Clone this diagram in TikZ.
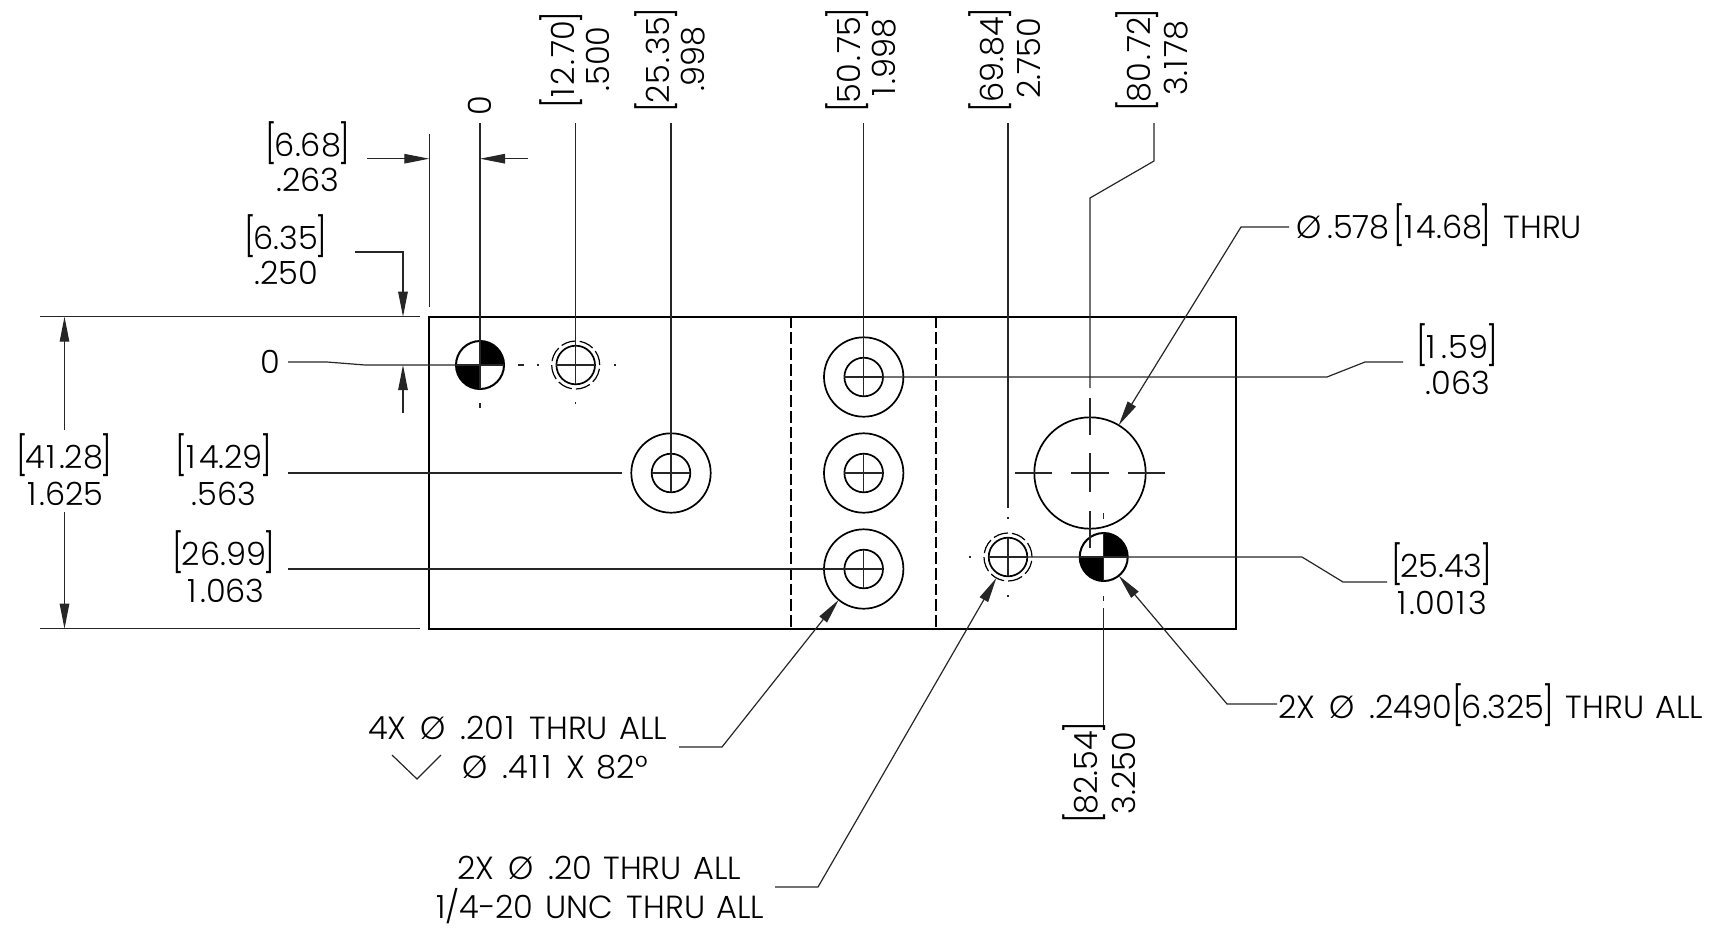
\documentclass[tikz,border=0pt]{standalone}
\usepackage{fontspec}
\setmainfont{Poppins Light}[WordSpace=1.3]
\usetikzlibrary{arrows.meta,calc}
\newcommand{\BL}{\raisebox{-1pt}{\scalebox{1}[1.2]{[}}\kern-2.5pt}
\newcommand{\BR}{\kern-2.5pt\raisebox{-1pt}{\scalebox{1}[1.2]{]}}}
\newcommand{\one}{\kern1.5pt 1\kern3pt}
\newcommand{\dotw}{\kern2pt.\kern2pt}
\newcommand{\DIA}{\kern14pt Ø\kern15pt}
\tikzset{
  lab/.style={inner sep=0pt,outer sep=0pt,anchor=base,font=\fontsize{32}{38}\selectfont},
  labl/.style={lab,anchor=base west},
  labr/.style={lab,rotate=90},
  thinl/.style={line width=1.2pt,black!85},
  outl/.style={line width=2pt,black},
  dashl/.style={line width=1.6pt,dash pattern=on 11.7pt off 4pt},
  ctr/.style={line width=1.2pt,black!85},
  holeo/.style={circle,draw,line width=1.7pt,minimum size=79.4pt,inner sep=0pt,outer sep=0pt},
  holei/.style={circle,draw,line width=1.7pt,minimum size=38.6pt,inner sep=0pt,outer sep=0pt},
  holeb/.style={circle,draw,line width=1.7pt,minimum size=111.4pt,inner sep=0pt,outer sep=0pt},
  holed/.style={circle,draw,line width=1.2pt,minimum size=48pt,inner sep=0pt,outer sep=0pt,dash pattern=on 14.85pt off 4pt},
  datum/.style={circle,draw,line width=2pt,minimum size=48pt,inner sep=0pt,outer sep=0pt},
  arr/.style={-{Triangle[length=25pt,width=9.5pt]}},
}
\begin{document}
\begin{tikzpicture}[x=1pt,y=-1pt]
\useasboundingbox (0,0) rectangle (1715,930);
% part
\coordinate (pNW) at (429.3,316.7);
\coordinate (pSE) at (1236,628.7);
\draw[outl] (pNW) rectangle (pSE);
\coordinate (s1t) at (791,316.7); \coordinate (s1b) at (791,628.7);
\coordinate (s2t) at (936,316.7); \coordinate (s2b) at (936,628.7);
\draw[dashl] (s1t) -- (s1b);
\draw[dashl] (s2t) -- (s2b);
% holes
\node[holeo] (cA) at (863.7,377) {}; \node[holei] (iA) at (863.7,377) {};
\node[holeo] (cB) at (863.7,473) {}; \node[holei] (iB) at (863.7,473) {};
\node[holeo] (cC) at (863.7,569) {}; \node[holei] (iC) at (863.7,569) {};
\node[holeo] (cD) at (671,473) {};   \node[holei] (iD) at (671,473) {};
\node[holeb] (big) at (1090,473) {};
\node[holei] (tA) at (575.7,365) {}; \node[holed] (dA) at (575.7,365) {};
\node[holei] (tB) at (1008,557) {};  \node[holed] (dB) at (1008,557) {};
\node[datum] (orgA) at (480,365) {};
\node[datum] (orgB) at (1103.7,557) {};
\foreach \d in {orgA,orgB}{
  \fill (\d.center) -- (\d.east) arc[start angle=0,end angle=90,radius=24pt] -- cycle;
  \fill (\d.center) -- (\d.west) arc[start angle=180,end angle=270,radius=24pt] -- cycle;
  \draw[ctr] (\d.west) -- (\d.east);
  \draw[ctr] (\d.north) -- (\d.south);
}
\foreach \h in {iA,iB,iC,iD,tA,tB}{
  \draw[ctr] (\h.west) -- (\h.east);
  \draw[ctr] (\h.north) -- (\h.south);
}
% centre marks of the big hole
\coordinate (bh1) at (1015,473); \coordinate (bh2) at (1052,473);
\coordinate (bh3) at (1071,473); \coordinate (bh4) at (1109,473);
\coordinate (bh5) at (1128,473); \coordinate (bh6) at (1165,473);
\draw[ctr] (bh1) -- (bh2); \draw[ctr] (bh3) -- (bh4); \draw[ctr] (bh5) -- (bh6);
\coordinate (bv1) at (1090,398); \coordinate (bv2) at (1090,435);
\coordinate (bv3) at (1090,453); \coordinate (bv4) at (1090,492);
\coordinate (bv5) at (1090,511); \coordinate (bv6) at (1090,548);
\draw[ctr] (bv1) -- (bv2); \draw[ctr] (bv3) -- (bv4); \draw[ctr] (bv5) -- (bv6);
% small centre ticks
\coordinate (a1) at (518,365); \coordinate (a2) at (524,365);
\coordinate (a3) at (537,365); \coordinate (a4) at (539,365);
\coordinate (a5) at (614,365); \coordinate (a6) at (616,365);
\coordinate (a7) at (575.7,402); \coordinate (a8) at (575.7,404);
\coordinate (a9) at (480,403); \coordinate (a10) at (480,408);
\draw[ctr] (a1) -- (a2); \draw[ctr] (a3) -- (a4); \draw[ctr] (a5) -- (a6); \draw[ctr] (a7) -- (a8);
\draw[ctr] (a9) -- (a10);
\coordinate (b1) at (1008,517); \coordinate (b2) at (1008,519);
\coordinate (b3) at (1008,595); \coordinate (b4) at (1008,597);
\coordinate (b5) at (969,557); \coordinate (b6) at (971,557);
\coordinate (b7) at (1103.7,513); \coordinate (b8) at (1103.7,519);
\coordinate (b9) at (1103.7,596); \coordinate (b10) at (1103.7,601);
\draw[ctr] (b1) -- (b2); \draw[ctr] (b3) -- (b4); \draw[ctr] (b5) -- (b6);
\draw[ctr] (b7) -- (b8); \draw[ctr] (b9) -- (b10);
% extension lines
\coordinate (x1t) at (429.3,134); \coordinate (x1b) at (429.3,306.7);
\draw[thinl] (x1t) -- (x1b);
\coordinate (x2t) at (480,123);
\draw[thinl] (x2t) -- (orgA.north);
\coordinate (x3t) at (575.7,123);
\draw[thinl] (x3t) -- (tA.south);
\coordinate (x4t) at (671,123);
\draw[thinl] (x4t) -- (iD.south);
\coordinate (x5t) at (863.7,123);
\draw[thinl] (x5t) -- (iA.south);
\coordinate (x6t) at (1008,123); \coordinate (x6b) at (1008,508);
\draw[thinl] (x6t) -- (x6b);
\coordinate (x7t) at (1154,123); \coordinate (x7a) at (1154,161); \coordinate (x7b) at (1090,198); \coordinate (x7c) at (1090,388);
\draw[thinl] (x7t) -- (x7a) -- (x7b) -- (x7c);
\coordinate (x8t) at (1103.7,608); \coordinate (x8b) at (1103.7,727);
\draw[thinl] (x8t) -- (x8b);
\coordinate (x9l) at (40,316.7); \coordinate (x9r) at (420,316.7);
\draw[thinl] (x9l) -- (x9r);
\coordinate (x10l) at (40,628.7); \coordinate (x10r) at (420,628.7);
\draw[thinl] (x10l) -- (x10r);
% dimension arrows
\coordinate (d1t) at (367,158.7); \coordinate (d1h) at (429.3,158.7);
\draw[thinl,arr] (d1t) -- (d1h);
\coordinate (d2t) at (528,158.7); \coordinate (d2h) at (480,158.7);
\draw[thinl,arr] (d2t) -- (d2h);
\coordinate (d3t) at (355,252); \coordinate (d3k) at (403,252); \coordinate (d3h) at (403,316.7);
\draw[thinl,arr] (d3t) -- (d3k) -- (d3h);
\coordinate (d4t) at (403,413); \coordinate (d4h) at (403,365);
\draw[thinl,arr] (d4t) -- (d4h);
\coordinate (d5t) at (64.5,430); \coordinate (d5h) at (64.5,316.7);
\draw[thinl,arr] (d5t) -- (d5h);
\coordinate (d6t) at (64.5,512); \coordinate (d6h) at (64.5,628.7);
\draw[thinl,arr] (d6t) -- (d6h);
% leaders
\coordinate (l0a) at (288,362); \coordinate (l0b) at (327,362); \coordinate (l0c) at (365,365);
\draw[thinl] (l0a) -- (l0b) -- (l0c) -- (orgA.west);
\coordinate (l1a) at (288,473); \coordinate (l1b) at (622,473);
\draw[thinl] (l1a) -- (l1b);
\coordinate (l2a) at (288,569);
\draw[thinl] (l2a) -- (iC.center);
\coordinate (l3a) at (1403,362); \coordinate (l3b) at (1365,362); \coordinate (l3c) at (1327,377);
\draw[thinl] (l3a) -- (l3b) -- (l3c) -- (iA.center);
\coordinate (l4a) at (1387,582); \coordinate (l4b) at (1343,582); \coordinate (l4c) at (1302,557);
\draw[thinl] (l4a) -- (l4b) -- (l4c) -- (tB.west);
\coordinate (l5a) at (1289,227); \coordinate (l5b) at (1241,227);
\draw[thinl,arr] (l5a) -- (l5b) -- (big.59);
\coordinate (l6a) at (1277,704); \coordinate (l6b) at (1227,704);
\draw[thinl,arr] (l6a) -- (l6b) -- (orgB.309);
\coordinate (l7a) at (679,747); \coordinate (l7b) at (722,747);
\draw[thinl,arr] (l7a) -- (l7b) -- (cC.231.6);
\coordinate (l8a) at (775,887); \coordinate (l8b) at (818,887);
\draw[thinl,arr] (l8a) -- (l8b) -- (dB.241);
% countersink symbol
\coordinate (v1) at (392,755); \coordinate (v2) at (417,779); \coordinate (v3) at (441,755);
\draw[thinl] (v1) -- (v2) -- (v3);
% text
\node[lab] (t1a) at (308,156.5) {\BL 6.68\BR};
\node[lab] (t1b) at (308,191.5) {.263};
\node[lab] (t2a) at (286,249.5) {\BL 6.35\BR};
\node[lab] (t2b) at (286,284.5) {.250};
\node[lab] (t3) at (270,373.5) {0};
\node[lab] (t4a) at (224,468.5) {\BL\one 4.29\BR};
\node[lab] (t4b) at (224,505.5) {.563};
\node[lab] (t5a) at (224,565) {\BL 26.99\BR};
\node[lab] (t5b) at (225.5,602) {\one.063};
\node[lab] (t6a) at (64.5,468.5) {\BL 4\one.28\BR};
\node[lab] (t6b) at (64.5,505.5) {\one.625};
\node[lab] (t7a) at (1457,358.5) {\BL\one\dotw 59\BR};
\node[lab] (t7b) at (1458,394.5) {.063};
\node[lab] (t8a) at (1441.5,577.5) {\BL 25.43\BR};
\node[lab] (t8b) at (1441.5,614) {\one.00\one 3};
\node[labr] (r0) at (491.5,106) {0};
\node[labr] (r1a) at (574,60) {\BL\one 2\dotw 70\BR};
\node[labr] (r1b) at (609.5,59) {.500};
\node[labr] (r2a) at (669.5,60) {\BL 25\dotw 35\BR};
\node[labr] (r2b) at (704.5,59) {.998};
\node[labr] (r3a) at (860.5,60) {\BL 50\dotw 75\BR};
\node[labr] (r3b) at (895.5,58) {\one.998};
\node[labr] (r4a) at (1003,60) {\BL 69.84\BR};
\node[labr] (r4b) at (1040,58) {2.750};
\node[labr] (r5a) at (1150.5,60) {\BL 80\dotw 72\BR};
\node[labr] (r5b) at (1187,58) {3.\one 78};
\node[labr] (r6a) at (1097.5,773) {\BL 82.54\BR};
\node[labr] (r6b) at (1135.5,773) {3.250};
\node[labl] (n1) at (1296,238.5) {Ø\kern6pt.578\kern4pt\BL\one 4.68\BR\kern12pt THRU};
\node[labl] (n2) at (1278,718) {2X\DIA.2490\BL 6.325\BR\kern12pt THRU ALL};
\node[labl] (n3a) at (368,739.5) {4X\DIA.20\one\ THRU ALL};
\node[labl] (n3b) at (462,778.5) {Ø\kern15pt.4\one\one\ X 82°};
\node[labl] (n4a) at (457,879.5) {2X\DIA.20 THRU ALL};
\node[labl] (n4b) at (436,918.5) {1/4-20 UNC\kern14pt THRU ALL};
\end{tikzpicture}
\end{document}
